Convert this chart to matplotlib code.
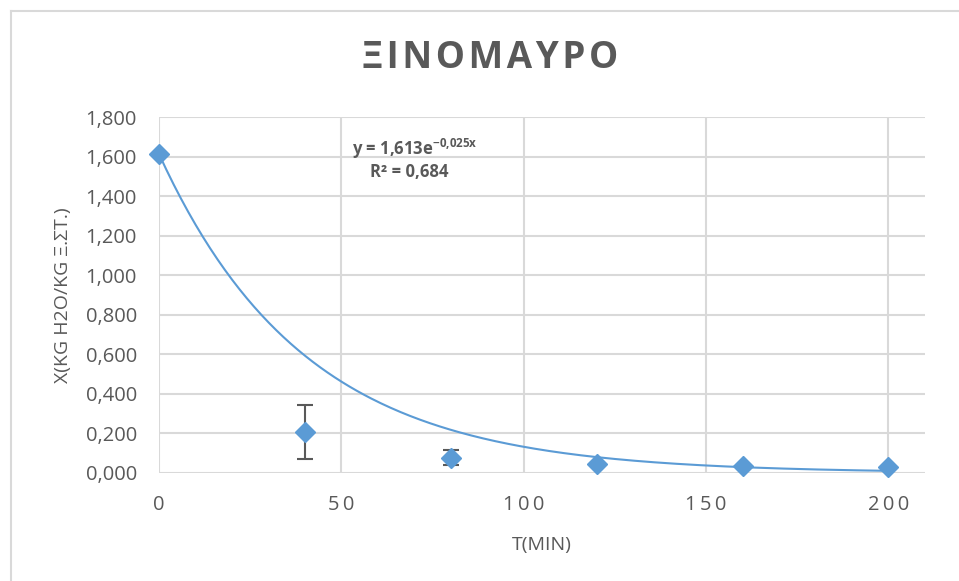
import numpy as np
import matplotlib
matplotlib.use("Agg")
import matplotlib.pyplot as plt
from matplotlib.lines import Line2D

t_min = [0, 40, 80, 120, 160, 200]
x_moist = [1.613, 0.207, 0.078, 0.045, 0.035, 0.030]
x_err = [0.0, 0.137, 0.040, 0.0, 0.0, 0.0]

# exponential trendline as shown in the label
fit_a = 1.613
fit_b = -0.025

title = "ΞΙΝΟΜΑΥΡΟ"
xlabel = "T(MIN)"
ylabel = "X(KG H2O/KG Ξ.ΣΤ.)"
xticks = [0, 50, 100, 150, 200]
yticks = [0.0, 0.2, 0.4, 0.6, 0.8, 1.0, 1.2, 1.4, 1.6, 1.8]

plt.rcParams['font.family'] = ['Open Sans', 'DejaVu Sans']
grey = "#595959"
blue = "#5b9bd5"
grid = "#d9d9d9"

fig = plt.figure(figsize=(9.59, 5.81), dpi=100)
ax = fig.add_axes([0.1658, 0.1859, 0.7987, 0.6127])

ax.set_xlim(0, 210)
ax.set_ylim(0, 1.8)
ax.set_xticks(xticks)
ax.set_yticks(yticks)
ax.set_xticklabels(["\u2009".join(str(v)) for v in xticks])
ax.set_yticklabels([f"{v:.3f}".replace(".", ",") for v in yticks])
ax.grid(True, color=grid, linewidth=1.5)
ax.set_axisbelow(True)
for s in ax.spines.values():
    s.set_visible(False)
ax.tick_params(length=0, labelsize=14.5, labelcolor=grey)
ax.tick_params(axis="y", pad=16)
ax.tick_params(axis="x", pad=16)

# trendline
tt = np.linspace(0, 200, 300)
ax.plot(tt, fit_a * np.exp(fit_b * tt), color=blue, linewidth=1.5, zorder=2)

ax.errorbar(t_min, x_moist, yerr=x_err, fmt="D", color=blue, markersize=10,
            ecolor=grey, elinewidth=1.5, capsize=6, capthick=1.5, zorder=3,
            clip_on=False)

ax.set_xlabel(xlabel, fontsize=14, color=grey, labelpad=15)
ax.set_ylabel(ylabel, fontsize=14, color=grey, labelpad=10)

# slight letter spacing like the Excel title
fig.text(0.511, 0.9, "\u200a".join(title), ha="center", va="center", fontsize=26.5,
         fontweight="bold", color=grey)

ax.text(70, 1.64, "y = 1,613e$^{\\mathregular{-0{,}025x}}$", ha="center", va="center",
        fontsize=12, fontweight="bold", color=grey)
ax.text(68.5, 1.52, "R² = 0,684", ha="center", va="center", fontsize=12,
        fontweight="bold", color=grey)

# outer chart border (only top/left visible in the crop)
fig.add_artist(Line2D([11 / 959, 11 / 959], [0, 1 - 11 / 581], transform=fig.transFigure,
                      color=grid, linewidth=1.5))
fig.add_artist(Line2D([11 / 959, 1], [1 - 11 / 581, 1 - 11 / 581], transform=fig.transFigure,
                      color=grid, linewidth=1.5))

fig.savefig("out.png", dpi=100)
